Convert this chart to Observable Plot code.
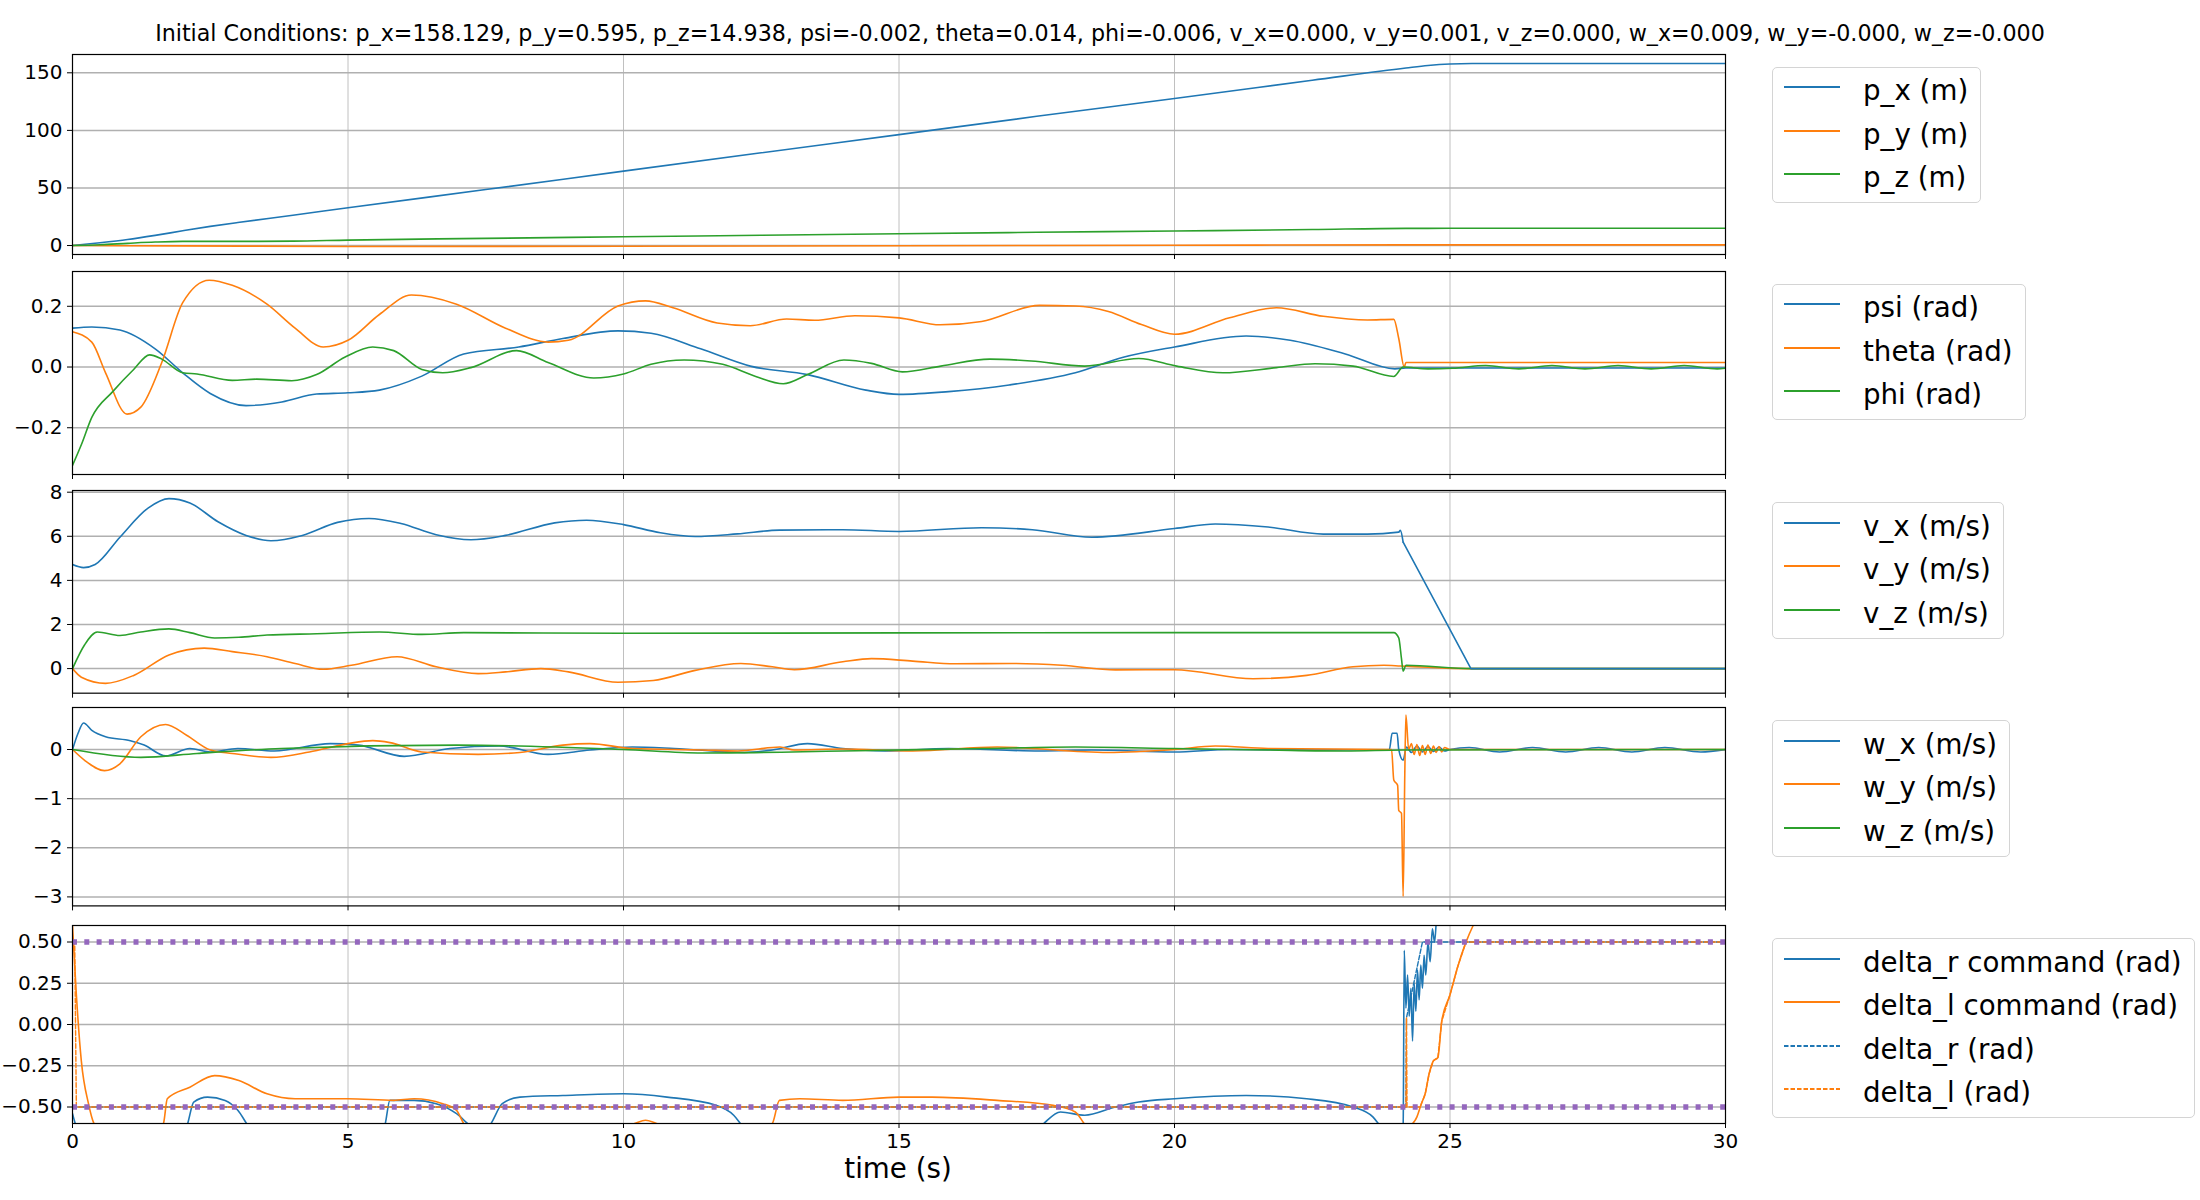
<!DOCTYPE html>
<html><head><meta charset="utf-8">
<script src="https://cdn.jsdelivr.net/npm/d3@7"></script>
<script src="https://cdn.jsdelivr.net/npm/@observablehq/plot@0.6"></script>
<style>
body{margin:0;background:#fff;}
#fig{position:relative;width:2200px;height:1200px;background:#fff;font-family:"DejaVu Sans",sans-serif;overflow:hidden;}
.panel{position:absolute;left:0;}
.panel text{font-family:"DejaVu Sans",sans-serif !important;font-size:20px !important;fill:#000;}
.legend{position:absolute;left:1772px;border:1px solid #d4d4d4;border-radius:5px;background:#fff;padding:2px 12px 2px 0;}
.legend .row{display:flex;align-items:center;height:43.5px;font-size:27.7px;white-space:nowrap;line-height:1;}
.legend svg{margin-left:11px;margin-right:23px;flex:none;}
#title{position:absolute;left:0;width:2200px;top:20px;text-align:center;font-size:22.2px;line-height:26px;white-space:nowrap;}
#xlabel{position:absolute;left:698px;width:400px;top:1153px;text-align:center;font-size:27.7px;line-height:32px;}
</style></head>
<body><div id="fig"><div id="title"></div><div id="xlabel">time (s)</div></div>
<script>
// ---------------- DATA ----------------
const titleText = "Initial Conditions: p_x=158.129, p_y=0.595, p_z=14.938, psi=-0.002, theta=0.014, phi=-0.006, v_x=0.000, v_y=0.001, v_z=0.000, w_x=0.009, w_y=-0.000, w_z=-0.000";
const xTicks = [0, 5, 10, 15, 20, 25, 30];

// Panel 1: positions
const px_t = [0, 0.5, 1, 1.5, 2, 2.5, 3, 4, 5, 7.5, 10, 12.5, 15, 17.5, 20, 22.5, 24.2, 24.6, 25, 25.4, 30];
const px_v = [0, 2.4, 5.2, 8.8, 12.8, 16.6, 20, 26.3, 32.8, 48.6, 64.6, 80.5, 96.3, 112.2, 127.7, 143.5, 154.2, 156.4, 157.7, 158.1, 158.1];
const py_t = [0, 2, 5, 10, 15, 20, 24.2, 30];
const py_v = [0, -0.3, -0.8, -0.6, -0.2, 0.2, 0.6, 0.6];
const pz_t = [0, 0.5, 1, 1.5, 2, 3, 4, 5, 7.5, 10, 12.5, 15, 17.5, 20, 22.5, 24.2, 25, 30];
const pz_v = [0, 0.7, 1.9, 3.0, 3.6, 3.6, 3.8, 4.7, 6.2, 7.6, 8.9, 10.2, 11.5, 12.6, 13.9, 14.9, 14.94, 14.94];

// Panel 2: angles
const psi_t = [0, 0.35, 0.86, 1.5, 2.0, 2.5, 3.15, 3.8, 4.43, 5.0, 5.57, 6.34, 7.1, 8.1, 8.9, 9.9, 10.5, 11.4, 12.3, 13.34, 14.4, 15.0, 15.9, 17.0, 18.2, 19.07, 20.0, 21.3, 22.1, 23.1, 24.0, 24.2, 30];
const psi_v = [0.128, 0.132, 0.122, 0.06, -0.019, -0.087, -0.127, -0.115, -0.089, -0.085, -0.076, -0.03, 0.043, 0.066, 0.094, 0.119, 0.111, 0.06, 0.003, -0.025, -0.076, -0.09, -0.081, -0.059, -0.019, 0.032, 0.066, 0.102, 0.088, 0.043, -0.006, -0.003, -0.003];
const theta_t = [0, 0.35, 0.6, 0.99, 1.24, 1.62, 2.0, 2.48, 2.9, 3.53, 4.04, 4.55, 5.0, 5.57, 6.15, 6.97, 7.86, 8.63, 9.0, 9.9, 10.4, 10.9, 11.7, 12.3, 12.96, 13.47, 14.2, 15.0, 15.75, 16.5, 17.55, 18.2, 18.8, 19.4, 20.0, 21.0, 21.85, 22.7, 23.5, 23.98, 24.07, 24.17, 24.2, 30];
const theta_v = [0.116, 0.082, -0.019, -0.155, -0.132, 0.015, 0.212, 0.286, 0.269, 0.207, 0.128, 0.066, 0.088, 0.173, 0.237, 0.207, 0.128, 0.082, 0.088, 0.201, 0.218, 0.195, 0.145, 0.136, 0.158, 0.154, 0.169, 0.162, 0.139, 0.15, 0.203, 0.201, 0.183, 0.14, 0.108, 0.162, 0.195, 0.167, 0.155, 0.157, 0.094, 0.0, 0.015, 0.015];
const phi_t = [0, 0.16, 0.35, 0.73, 1.11, 1.4, 1.62, 2.0, 2.26, 2.9, 3.34, 3.98, 4.43, 4.94, 5.45, 5.83, 6.34, 6.72, 7.23, 8.06, 8.63, 9.46, 10.0, 10.5, 11.1, 11.8, 12.4, 12.9, 13.34, 14.0, 14.5, 15.06, 15.76, 16.65, 17.4, 18.37, 19.35, 20.04, 20.88, 21.85, 22.55, 23.24, 23.98, 24.15, 24.6, 25.05, 25.65, 26.25, 26.85, 27.45, 28.05, 28.65, 29.25, 29.85, 30];
const phi_v = [-0.324, -0.256, -0.166, -0.081, -0.008, 0.04, 0.026, -0.019, -0.023, -0.044, -0.04, -0.045, -0.025, 0.032, 0.066, 0.054, -0.008, -0.019, -0.002, 0.054, 0.015, -0.036, -0.023, 0.009, 0.023, 0.009, -0.031, -0.055, -0.025, 0.023, 0.012, -0.016, 0.003, 0.026, 0.02, 0.003, 0.028, 0.003, -0.019, -0.002, 0.011, 0.003, -0.031, 0.0, -0.006, -0.004, 0.005, -0.006, 0.005, -0.006, 0.005, -0.006, 0.005, -0.006, -0.004];

// Panel 3: linear velocities (v_x: smooth part, then straight deceleration)
const vx_t = [0, 0.2, 0.41, 0.86, 1.37, 1.75, 2.13, 2.64, 3.15, 3.6, 4.17, 4.81, 5.38, 5.96, 6.6, 7.23, 7.86, 8.75, 9.33, 10.0, 10.67, 11.3, 12.07, 12.83, 13.98, 15.0, 16.5, 17.42, 18.5, 20.0, 20.74, 21.7, 22.7, 23.5, 24.07, 24.1, 24.15];
const vx_v = [4.72, 4.58, 4.72, 5.96, 7.28, 7.71, 7.51, 6.66, 6.04, 5.8, 6.04, 6.63, 6.81, 6.58, 6.07, 5.84, 6.04, 6.61, 6.73, 6.53, 6.16, 5.99, 6.11, 6.28, 6.3, 6.22, 6.39, 6.3, 5.96, 6.35, 6.56, 6.42, 6.1, 6.1, 6.19, 6.27, 5.73];
const vxd_t = [24.15, 25.38, 30];
const vxd_v = [5.73, 0.0, 0.0];
const vy_t = [0, 0.16, 0.6, 1.11, 1.75, 2.39, 2.9, 3.53, 4.04, 4.55, 5.06, 5.89, 6.6, 7.36, 7.86, 8.5, 9.0, 9.9, 10.54, 11.3, 12.13, 12.7, 13.1, 13.98, 14.5, 15.25, 16.02, 17.04, 17.96, 18.93, 20.0, 21.43, 22.4, 23.24, 23.8, 24.1, 24.6, 25.3, 30];
const vy_v = [0, -0.39, -0.67, -0.31, 0.62, 0.93, 0.77, 0.54, 0.23, -0.03, 0.15, 0.54, 0.08, -0.23, -0.15, 0.0, -0.15, -0.62, -0.54, -0.08, 0.23, 0.08, -0.05, 0.31, 0.45, 0.34, 0.22, 0.23, 0.15, -0.06, -0.05, -0.46, -0.31, 0.08, 0.15, 0.12, 0.06, 0.0, 0.0];
const vz_t = [0, 0.22, 0.45, 0.86, 1.24, 1.75, 2.13, 2.58, 3.02, 3.53, 4.43, 5.57, 6.34, 7.1, 10, 15, 20, 23.98, 24.07, 24.12, 24.15, 24.2, 25.4, 30];
const vz_v = [0, 1.08, 1.66, 1.5, 1.66, 1.8, 1.63, 1.39, 1.42, 1.52, 1.58, 1.66, 1.55, 1.63, 1.6, 1.62, 1.63, 1.63, 1.39, 0.45, -0.12, 0.15, 0.0, 0.0];

// Panel 4: angular velocities
const wx_t = [0, 0.1, 0.2, 0.35, 0.6, 1.05, 1.3, 1.69, 2.13, 2.5, 3.0, 3.66, 4.68, 5.19, 6.02, 6.85, 7.74, 8.63, 9.39, 10.16, 10.92, 12.2, 12.7, 13.34, 13.98, 14.74, 15.9, 17.55, 18.5, 20.0, 21.0, 22.4, 23.9, 23.95, 24.04, 24.07, 24.15, 24.21, 24.3, 24.4, 24.5, 24.6, 24.7, 24.8, 24.9, 25.0, 25.35, 25.9, 26.5, 27.1, 27.7, 28.3, 28.9, 29.55, 30];
const wx_v = [0, 0.33, 0.54, 0.39, 0.26, 0.18, 0.09, -0.13, 0.02, -0.05, 0.02, -0.03, 0.12, 0.09, -0.14, 0.02, 0.07, -0.1, -0.01, 0.05, 0.02, -0.06, -0.01, 0.12, 0.02, -0.03, 0.02, -0.03, -0.01, -0.05, 0, -0.01, 0, 0.33, 0.33, 0, -0.22, 0.05, -0.06, 0.07, -0.05, 0.06, -0.04, 0.05, -0.03, 0.0, 0.04, -0.05, 0.04, -0.05, 0.04, -0.05, 0.04, -0.05, 0.0];
const wy_t = [0, 0.22, 0.58, 0.86, 1.24, 1.69, 2.07, 2.5, 2.9, 3.6, 4.3, 5.0, 5.45, 5.76, 6.34, 7.36, 8.12, 8.9, 9.39, 10.16, 11.43, 12.07, 12.84, 13.1, 13.98, 15.25, 16.78, 18.79, 20.0, 20.74, 21.7, 23.94, 23.98, 24.05, 24.07, 24.12, 24.15, 24.18, 24.2, 24.25, 24.3, 24.35, 24.4, 24.45, 24.5, 24.55, 24.6, 24.65, 24.7, 24.75, 24.8, 24.85, 24.9, 25.0, 30];
const wy_v = [0, -0.22, -0.43, -0.29, 0.26, 0.51, 0.29, -0.01, -0.08, -0.16, -0.05, 0.12, 0.18, 0.14, -0.05, -0.1, -0.06, 0.09, 0.12, 0.02, -0.01, -0.03, 0.05, -0.01, 0.01, -0.03, 0.05, -0.06, 0, 0.07, 0.02, 0, -0.62, -0.73, -1.24, -1.3, -2.99, -0.5, 0.7, 0.0, 0.12, -0.1, 0.1, -0.12, 0.08, -0.1, 0.09, -0.08, 0.07, -0.06, 0.06, -0.05, 0.04, 0, 0];
const wz_t = [0, 1.24, 2.26, 3.79, 6.97, 10, 11.43, 13.98, 16.53, 18.2, 20, 21.7, 23.1, 24.15, 30];
const wz_v = [0, -0.16, -0.08, 0.02, 0.09, 0, -0.07, -0.03, 0.02, 0.05, 0.02, -0.01, -0.03, -0.01, 0];

// Panel 5: control surfaces
const drc_t = [0, 0.07, 0.5, 1.5, 2.07, 2.2, 2.45, 2.77, 3.0, 3.2, 3.6, 4.5, 5.2, 5.66, 5.76, 6.2, 6.6, 6.97, 7.25, 7.4, 7.55, 7.8, 8.12, 8.9, 10.0, 10.79, 11.68, 12.0, 12.17, 12.8, 15, 17, 17.55, 17.93, 18.37, 18.93, 19.35, 20.0, 21.3, 22.4, 23.24, 23.6, 23.75, 24.0, 24.15, 24.17, 24.2, 24.23, 24.26, 24.29, 24.32, 24.35, 24.38, 24.41, 24.44, 24.47, 24.5, 24.53, 24.56, 24.6, 24.64, 24.68, 24.72, 24.77, 25.0, 26, 30];
const drc_v = [-0.54, -0.62, -0.8, -0.8, -0.62, -0.47, -0.44, -0.46, -0.52, -0.62, -0.75, -0.8, -0.72, -0.62, -0.46, -0.46, -0.48, -0.54, -0.62, -0.64, -0.62, -0.48, -0.44, -0.43, -0.42, -0.44, -0.49, -0.55, -0.62, -0.75, -0.8, -0.7, -0.62, -0.53, -0.55, -0.5, -0.47, -0.45, -0.43, -0.45, -0.5, -0.56, -0.62, -0.68, -0.6, 0.45, 0.1, 0.3, 0.05, 0.22, -0.1, 0.25, 0.08, 0.33, 0.15, 0.36, 0.22, 0.42, 0.3, 0.5, 0.38, 0.58, 0.5, 0.7, 0.8, 0.85, 0.85];
const dlc_t = [0, 0.07, 0.16, 0.29, 0.39, 0.8, 1.3, 1.65, 1.72, 2.13, 2.58, 3.02, 3.53, 4.04, 5.0, 5.83, 6.2, 6.72, 6.97, 7.1, 7.6, 8.5, 9.5, 10.2, 10.4, 10.6, 11.0, 12.0, 12.7, 12.83, 13.2, 13.98, 15.0, 15.6, 16.78, 17.8, 18.2, 18.36, 19, 21, 23, 24.0, 24.18, 24.4, 24.48, 24.55, 24.62, 24.7, 24.78, 24.85, 25.0, 25.14, 25.28, 25.42, 26, 30];
const dlc_v = [0.6, 0.18, -0.22, -0.48, -0.6, -0.72, -0.7, -0.6, -0.45, -0.38, -0.31, -0.34, -0.42, -0.45, -0.45, -0.46, -0.45, -0.48, -0.52, -0.6, -0.72, -0.75, -0.68, -0.6, -0.58, -0.6, -0.68, -0.72, -0.6, -0.46, -0.45, -0.46, -0.44, -0.44, -0.46, -0.49, -0.53, -0.6, -0.75, -0.85, -0.85, -0.8, -0.65, -0.56, -0.48, -0.42, -0.3, -0.22, -0.2, 0.02, 0.18, 0.35, 0.49, 0.6, 0.8, 0.85];
const dr_t = [0, 24.2, 24.21, 24.5, 30];
const dr_v = [-0.5, -0.5, 0.04, 0.5, 0.5];
const dl_t = [0, 0.04, 0.07, 24.2, 24.21, 24.22, 24.46, 24.55, 24.62, 24.7, 24.78, 24.85, 25.0, 25.14, 25.29, 30];
const dl_v = [0.5, 0.5, -0.5, -0.5, 0.04, -0.5, -0.5, -0.42, -0.3, -0.22, -0.2, 0.02, 0.18, 0.35, 0.5, 0.5];
const limits = [-0.5, 0.5];

// ---------------- STYLE / LAYOUT ----------------
const C = {blue: "#1f77b4", orange: "#ff7f0e", green: "#2ca02c", purple: "#9467bd"};
const minus = s => s.replace("-", "\u2212");
const rows = (t, v) => t.map((d, i) => ({t: d, v: v[i]}));

// series entry: [t, v, color, legend label (null = not in legend), dash, curve]
const panels = [
  {top: 54, bottom: 254, domain: [-7.8, 165.9], ticks: [0, 50, 100, 150], fmt: d => minus(String(d)), legendTop: 66.6,
   series: [[px_t, px_v, C.blue, "p_x (m)"], [py_t, py_v, C.orange, "p_y (m)"], [pz_t, pz_v, C.green, "p_z (m)"]]},
  {top: 271, bottom: 474, domain: [-0.354, 0.3146], ticks: [-0.2, 0, 0.2], fmt: d => minus(d.toFixed(1)), legendTop: 283.6,
   series: [[psi_t, psi_v, C.blue, "psi (rad)"], [theta_t, theta_v, C.orange, "theta (rad)"], [phi_t, phi_v, C.green, "phi (rad)"]]},
  {top: 489.6, bottom: 692.3, domain: [-1.116, 8.077], ticks: [0, 2, 4, 6, 8], fmt: d => minus(String(d)), legendTop: 502,
   series: [[vx_t, vx_v, C.blue, "v_x (m/s)"], [vy_t, vy_v, C.orange, "v_y (m/s)"], [vz_t, vz_v, C.green, "v_z (m/s)"],
            [vxd_t, vxd_v, C.blue, null, null, "linear"]]},
  {top: 707.3, bottom: 905.7, domain: [-3.183, 0.855], ticks: [-3, -2, -1, 0], fmt: d => minus(String(d)), legendTop: 720,
   series: [[wx_t, wx_v, C.blue, "w_x (m/s)"], [wy_t, wy_v, C.orange, "w_y (m/s)"], [wz_t, wz_v, C.green, "w_z (m/s)"]]},
  {top: 925.3, bottom: 1123.3, domain: [-0.6, 0.6], ticks: [-0.5, -0.25, 0, 0.25, 0.5], fmt: d => minus(d.toFixed(2)), legendTop: 938, last: true,
   series: [[drc_t, drc_v, C.blue, "delta_r command (rad)"], [dlc_t, dlc_v, C.orange, "delta_l command (rad)"],
            [dr_t, dr_v, C.blue, "delta_r (rad)", "4.5,2", "linear"], [dl_t, dl_v, C.orange, "delta_l (rad)", "4.5,2", "linear"]]}
];

const fig = document.getElementById("fig");
document.getElementById("title").textContent = titleText;

panels.forEach(p => {
  const mt = 14, mb = p.last ? 40 : 14;
  const h = p.bottom - p.top;
  const marks = [
    Plot.ruleX([5, 10, 15, 20, 25], {stroke: "#b0b0b0", strokeWidth: 0.8}),
    Plot.ruleY(p.ticks, {stroke: "#b0b0b0", strokeWidth: 1.5}),
    ...p.series.map(([t, v, col, , dash, curve]) =>
      Plot.line(rows(t, v), {x: "t", y: "v", stroke: col, strokeWidth: dash ? 1.4 : 1.6,
        strokeDasharray: dash || null, curve: curve || "monotone-x", clip: true}))
  ];
  if (p.last) marks.push(Plot.ruleY(limits, {stroke: C.purple, strokeWidth: 5.4, strokeDasharray: "5,7.3"}));
  marks.push(Plot.frame({stroke: "#000", strokeWidth: 1.2}));
  const svg = Plot.plot({
    width: 1745, height: h + mt + mb,
    marginLeft: 72, marginRight: 20, marginTop: mt, marginBottom: mb,
    style: {background: "transparent", fontFamily: "DejaVu Sans", fontSize: "20px", overflow: "visible"},
    x: {domain: [0, 30], ticks: xTicks, tickSize: 5, tickPadding: 5, label: null,
        tickFormat: p.last ? (d => String(d)) : (() => "")},
    y: {domain: p.domain, ticks: p.ticks, tickSize: 5, tickPadding: 5, label: null, tickFormat: p.fmt},
    marks
  });
  svg.classList.add("panel");
  svg.style.position = "absolute";
  svg.style.top = (p.top - mt) + "px";
  svg.style.left = "0px";
  svg.style.width = "1745px";
  svg.style.maxWidth = "none";
  fig.appendChild(svg);

  // legend
  const lg = document.createElement("div");
  lg.className = "legend";
  lg.style.top = p.legendTop + "px";
  p.series.filter(s => s[3]).forEach(([, , col, label, dash]) => {
    const r = document.createElement("div");
    r.className = "row";
    r.innerHTML = `<svg width="56" height="20"><line x1="0" x2="56" y1="6" y2="6" stroke="${col}" stroke-width="2" ${dash ? `stroke-dasharray="${dash}"` : ""}/></svg><span>${label}</span>`;
    lg.appendChild(r);
  });
  fig.appendChild(lg);
});
</script>
</body></html>
